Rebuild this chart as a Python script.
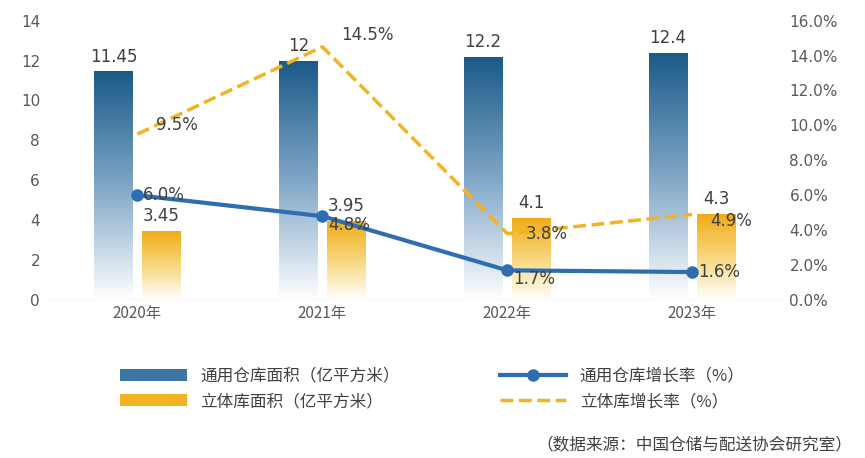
import numpy as np, pandas as pd, matplotlib
matplotlib.use("Agg")
import matplotlib.pyplot as plt, seaborn as sns
from matplotlib.colors import LinearSegmentedColormap
from matplotlib.lines import Line2D
from matplotlib.patches import Patch

plt.rcParams['font.family'] = ['Noto Sans CJK SC']
years = ["2020年", "2021年", "2022年", "2023年"]
general_area = [11.45, 12, 12.2, 12.4]
auto_area = [3.45, 3.95, 4.1, 4.3]
general_rate = [6.0, 4.8, 1.7, 1.6]
auto_rate = [9.5, 14.5, 3.8, 4.9]
s1, s2 = "通用仓库面积（亿平方米）", "立体库面积（亿平方米）"

df = pd.DataFrame({"year": years*2, "v": general_area+auto_area,
                   "s": [s1]*4+[s2]*4})
fig = plt.figure(figsize=(8.65, 4.58), dpi=100)
ax = fig.add_axes([0.052, 0.345, 0.855, 0.61])
sns.barplot(data=df, x="year", y="v", hue="s", ax=ax, width=0.52, gap=0.2,
            palette=["#1f5f8b", "#f2b322"], legend=False)
cmaps = [LinearSegmentedColormap.from_list("b", ["#ffffff", "#7fa6c6", "#1a5a88"]),
         LinearSegmentedColormap.from_list("g", ["#ffffff", "#f8d77e", "#f0ac18"])]
grad = np.linspace(0, 1, 256).reshape(-1, 1)
for i, p in enumerate(ax.patches[:8]):
    x0, y0, w, h = p.get_x(), p.get_y(), p.get_width(), p.get_height()
    p.set_facecolor("none")
    im = ax.imshow(grad, cmap=cmaps[i // 4], origin="lower", aspect="auto",
                   extent=[x0, x0+w, y0, y0+h], zorder=1)
    im.set_clip_path(p)
    ax.text(x0+w/2, h+0.3, f"{[general_area, auto_area][i//4][i%4]:g}",
            ha="center", va="bottom", fontsize=12, color="#404040",
            family="DejaVu Sans")
ax.set_xlim(-0.5, 3.5); ax.set_ylim(0, 14)
ax.set_yticks(range(0, 15, 2))
ax.set_xlabel(""); ax.set_ylabel("")
for s in ax.spines.values(): s.set_visible(False)
ax.tick_params(length=0, labelsize=11, colors="#595959")
ax.axhline(0, color="#d9d9d9", lw=1)
for t in ax.get_yticklabels(): t.set_family("DejaVu Sans")

ax2 = ax.twinx()
x = np.arange(4)
ax2.plot(x, general_rate, color="#2e6db4", lw=3, marker="o", ms=8, zorder=3)
ax2.plot(x, auto_rate, color="#f2b322", lw=2.5, ls="--", zorder=3)
ax2.set_ylim(0, 16); ax2.set_yticks(range(0, 17, 2))
ax2.set_yticklabels([f"{v:.1f}%" for v in range(0, 17, 2)], family="DejaVu Sans")
ax2.tick_params(length=0, labelsize=11, colors="#595959")
for s in ax2.spines.values(): s.set_visible(False)
g_off = [0.0, -0.5, -0.5, 0.0]
a_off = [0.5, 0.7, 0.0, -0.4]
for i in range(4):
    ax2.text(x[i]+0.03, general_rate[i]+g_off[i], f"{general_rate[i]:.1f}%", fontsize=12,
             color="#404040", ha="left", va="center", family="DejaVu Sans")
    ax2.text(x[i]+0.1, auto_rate[i]+a_off[i], f"{auto_rate[i]:.1f}%", fontsize=12,
             color="#404040", ha="left", va="center", family="DejaVu Sans")

handles = [Patch(facecolor="#3c76a3"), Patch(facecolor="#f2b322"),
           Line2D([], [], color="#2e6db4", lw=3, marker="o", ms=8),
           Line2D([], [], color="#f2b322", lw=2.5, ls="--")]
labels = [s1, s2, "通用仓库增长率（%）", "立体库增长率（%）"]
fig.legend(handles, labels, ncol=2, loc="upper center", bbox_to_anchor=(0.5, 0.23),
           frameon=False, fontsize=12, columnspacing=6, handlelength=4,
           labelcolor="#404040")
fig.text(0.985, 0.02, "（数据来源：中国仓储与配送协会研究室）", ha="right", fontsize=12, color="#404040")
fig.savefig("out.png", dpi=100)
